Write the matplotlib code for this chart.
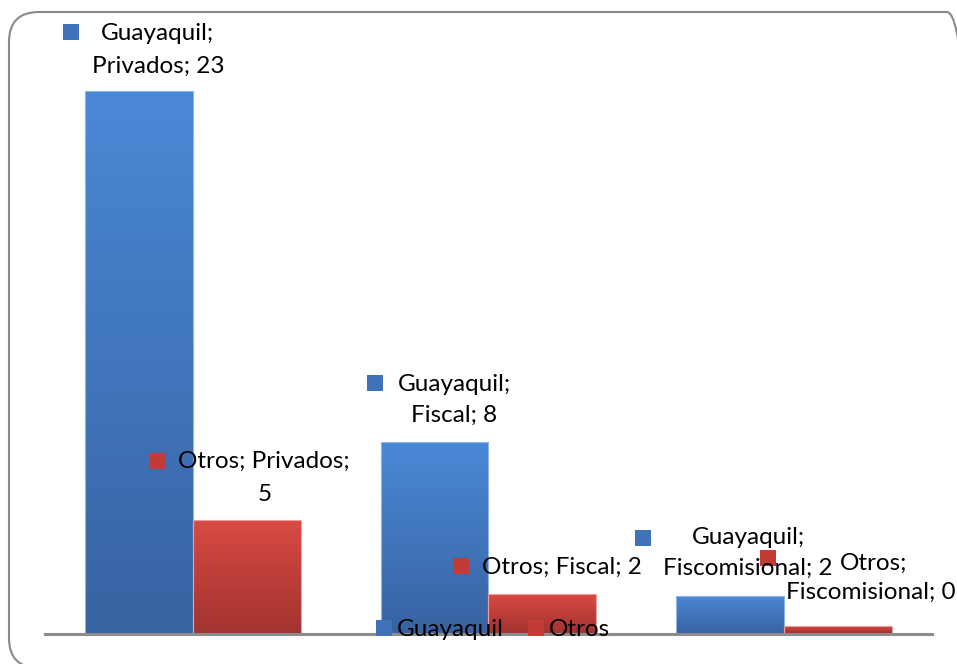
import numpy as np
import matplotlib
matplotlib.use("Agg")
import matplotlib.pyplot as plt
from matplotlib.colors import LinearSegmentedColormap
from matplotlib.patches import Patch, FancyBboxPatch
from matplotlib.transforms import ScaledTranslation

plt.rcParams['font.family'] = ['Lato', 'DejaVu Sans']

categories = ["Privados", "Fiscal", "Fiscomisional"]
series_names = ["Guayaquil", "Otros"]
guayaquil = [23.2, 8.2, 1.6]
otros = [4.85, 1.7, 0.3]

blue_top, blue_bot = "#4a88d6", "#3863a2"
red_top, red_bot = "#da4a45", "#a2332f"
blue_key, red_key = "#3f72b8", "#c23b37"

W, H, DPI = 957, 664, 100
fig = plt.figure(figsize=(W / DPI, H / DPI), dpi=DPI)

# axes in pixel coords: x 45..932, y(bottom) 633.5 .. top 40
ax = fig.add_axes([45 / W, (H - 633.5) / H, (932 - 45) / W, (633.5 - 40) / H])
ax.set_xlim(-0.5, 2.5)
ax.set_ylim(0, 593.5 / 23.4)

x = np.arange(len(categories))
bw = 0.365
bars_g = ax.bar(x - bw / 2, guayaquil, width=bw, facecolor="none", edgecolor="none", zorder=2)
bars_o = ax.bar(x + bw / 2, otros, width=bw, facecolor="none", edgecolor="none", zorder=2)

cm_b = LinearSegmentedColormap.from_list("b", [blue_bot, blue_top])
cm_r = LinearSegmentedColormap.from_list("r", [red_bot, red_top])
grad = np.linspace(0, 1, 256).reshape(-1, 1)
for bars, cm, edge in [(bars_g, cm_b, "#8fb6e6"), (bars_o, cm_r, "#eaa19e")]:
    for b in bars:
        x0, w, h = b.get_x(), b.get_width(), b.get_height()
        im = ax.imshow(grad, extent=[x0, x0 + w, 0, h], origin="lower", aspect="auto",
                       cmap=cm, zorder=2, interpolation="bilinear")
        im.set_clip_path(b)
        ax.add_patch(plt.Rectangle((x0, 0), w, h, facecolor="none", edgecolor=edge,
                                   lw=0.8, zorder=2.5))
ax.set_xlim(-0.5, 2.5)
ax.set_ylim(0, 593.5 / 23.4)

for s in ["top", "right", "left"]:
    ax.spines[s].set_visible(False)
ax.spines["bottom"].set_color("#8c8c8c")
ax.spines["bottom"].set_linewidth(2.2)
ax.spines["bottom"].set_zorder(3)
ax.set_xticks([])
ax.set_yticks([])
ax.patch.set_alpha(0)

FS = 17.5

def px(dx, dy):
    return ax.transData + ScaledTranslation(dx / DPI, dy / DPI, fig.dpi_scale_trans)

def label(bar, keycol, square, lines):
    cx = bar.get_x() + bar.get_width() / 2
    h = bar.get_height()
    sx, sy = square
    ax.plot([cx], [h], marker="s", markersize=11, color=keycol, markeredgewidth=0,
            transform=px(sx, sy), zorder=5, clip_on=False)
    for txt, (dx, dy) in lines:
        ax.text(cx, h, txt, transform=px(dx, dy), ha="center", va="center",
                fontsize=FS, color="black", zorder=6, clip_on=False)

def fmt(v):
    return f"{v:.0f}"

g, o = guayaquil, otros
label(bars_g[0], blue_key, (-67.5, 58.5),
      [(f"{series_names[0]};", (19, 57)), (f"{categories[0]}; {fmt(g[0])}", (19, 24))])
label(bars_o[0], red_key, (-88.5, 59.5),
      [(f"{series_names[1]}; {categories[0]};", (17, 59)), (fmt(o[0]), (18, 26))])
label(bars_g[1], blue_key, (-59.5, 59),
      [(f"{series_names[0]};", (20, 57)), (f"{categories[1]}; {fmt(g[1])}", (19.5, 26))])
label(bars_o[1], red_key, (-81.5, 27.5),
      [(f"{series_names[1]}; {categories[1]}; {fmt(o[1])}", (19, 26))])
label(bars_g[2], blue_key, (-87.5, 58.5),
      [(f"{series_names[0]};", (18, 59)), (f"{categories[2]}; {fmt(g[2])}", (18, 28))])
label(bars_o[2], red_key, (-70, 68),
      [(f"{series_names[1]};", (35, 63)), (f"{categories[2]}; {fmt(o[2])}", (33, 34))])

handles = [Patch(facecolor=blue_key, edgecolor="none"), Patch(facecolor=red_key, edgecolor="none")]
fig.legend(handles, series_names, loc="center", bbox_to_anchor=(493 / W, 1 - 630 / H),
           ncol=2, frameon=False, fontsize=FS, handlelength=0.66, handleheight=0.66,
           handletextpad=0.2, columnspacing=1.0, borderpad=0)

border = FancyBboxPatch((9, -4), 968, 656, boxstyle="round,pad=0,rounding_size=30",
                        transform=None, facecolor="none", edgecolor="#8a8a8a", lw=1.5,
                        zorder=10)
fig.patches.append(border)

fig.savefig("out.png", dpi=DPI)
